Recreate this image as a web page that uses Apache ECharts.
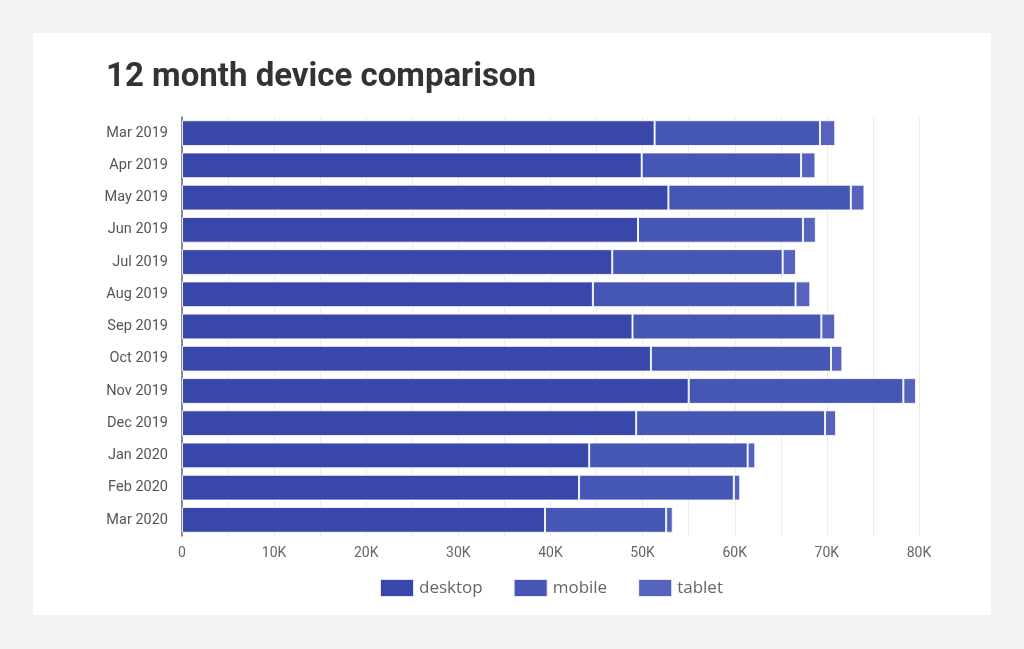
<!DOCTYPE html>
<html>
<head>
<meta charset="utf-8">
<script src="https://cdn.jsdelivr.net/npm/echarts@6/dist/echarts.min.js"></script>
<style>
html,body{margin:0;padding:0;background:#f2f2f2;}
#chart{width:1024px;height:649px;}
</style>
</head>
<body>
<div id="chart"></div>
<script>
const categories = ['Mar 2019','Apr 2019','May 2019','Jun 2019','Jul 2019','Aug 2019','Sep 2019','Oct 2019','Nov 2019','Dec 2019','Jan 2020','Feb 2020','Mar 2020'];
const desktop = [51300, 49900, 52800, 49500, 46700, 44600, 48900, 50900, 55000, 49300, 44200, 43100, 39400];
const mobile  = [17950, 17300, 19800, 17900, 18500, 22000, 20500, 19550, 23300, 20500, 17200, 16800, 13150];
const tablet  = [1660, 1560, 1480, 1400, 1450, 1600, 1500, 1230, 1380, 1200, 830, 700, 720];
const xTicks = [0, 10000, 20000, 30000, 40000, 50000, 60000, 70000, 80000];

const chart = echarts.init(document.getElementById('chart'));
const barStyle = (c) => ({ color: c, borderColor: 'rgba(255,255,255,0.85)', borderWidth: 1 });
chart.setOption({
  backgroundColor: '#f2f2f2',
  animation: false,
  graphic: [{
    type: 'rect', z: -10, silent: true,
    shape: { x: 33, y: 33, width: 958, height: 582 },
    style: { fill: '#ffffff' }
  }],
  title: {
    text: '12 month device comparison',
    left: 101, top: 56,
    textStyle: { fontFamily: 'Roboto', fontWeight: 'bold', fontSize: 33, color: '#333333' }
  },
  legend: {
    bottom: 46, left: 374,
    icon: 'rect',
    itemWidth: 34, itemHeight: 18, itemGap: 30,
    textStyle: { fontFamily: 'Open Sans', fontSize: 17, color: '#666666' },
    data: ['desktop', 'mobile', 'tablet']
  },
  grid: { left: 182, right: 105, top: 117, bottom: 113, containLabel: false },
  xAxis: {
    type: 'value', min: 0, max: 80000, interval: 5000,
    axisLine: { show: false }, axisTick: { show: false },
    splitLine: { show: true, lineStyle: { color: '#ececec', width: 1 } },
    axisLabel: {
      fontFamily: 'Roboto', fontSize: 14, color: '#666666', margin: 10,
      formatter: v => xTicks.indexOf(v) >= 0 ? (v === 0 ? '0' : (v / 1000) + 'K') : ''
    }
  },
  yAxis: {
    type: 'category', data: categories, inverse: true,
    axisLine: { show: true, lineStyle: { color: '#666666', width: 1.5 } },
    axisTick: { show: false },
    axisLabel: { fontFamily: 'Roboto', fontSize: 14.5, color: '#555555', margin: 14 }
  },
  series: [
    { name: 'desktop', type: 'bar', stack: 'total', data: desktop, barCategoryGap: '20%', itemStyle: barStyle('#3847a9') },
    { name: 'mobile', type: 'bar', stack: 'total', data: mobile, itemStyle: barStyle('#4556b4') },
    { name: 'tablet', type: 'bar', stack: 'total', data: tablet, itemStyle: barStyle('#5563bc') }
  ]
});
</script>
</body>
</html>
